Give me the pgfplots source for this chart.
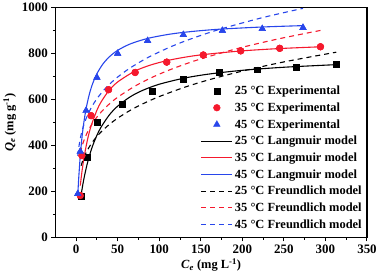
\documentclass[border=0pt]{standalone}
\usepackage{pgfplots}
\pgfplotsset{compat=1.18}
\usepackage{fontspec}
\setmainfont{Liberation Serif}
\definecolor{myred}{RGB}{245,25,45}
\definecolor{myblue}{RGB}{40,70,235}
\pgfplotsset{
 linelegend/.style={legend image code/.code={\draw[##1] (0cm,0cm) -- (1.1cm,0cm);}},
 marklegend/.style={legend image code/.code={\draw[##1] plot coordinates {(0.55cm,0cm)};}},
}
\begin{document}
\begin{tikzpicture}
\begin{axis}[
 scale only axis, width=312bp, height=230bp,
 xmin=-25, xmax=350, ymin=0, ymax=1000,
 xtick={0,50,...,350}, ytick={0,200,...,1000},
 minor x tick num=1, minor y tick num=1,
 tick align=outside, tick pos=left,
 major tick length=4bp, minor tick length=2.5bp,
 axis line style={line width=1.2pt},
 every tick/.style={line width=1pt, black},
 ticklabel style={font=\fontsize{13}{15}\selectfont\bfseries},
 /pgf/number format/assume math mode=true,
 /pgf/number format/1000 sep={},
 xlabel={\textbf{\textit{C}\textsubscript{\textit{e}} (mg L\textsuperscript{-1})}},
 ylabel={\textbf{\textit{Q}\textsubscript{\textit{e}} (mg g\textsuperscript{-1})}},
 label style={font=\fontsize{12.5}{14}\selectfont\bfseries},
 xlabel style={yshift=2bp},
 ylabel style={yshift=-1bp},
 legend style={at={(0.99,0.024)},anchor=south east,draw=none,fill=none,
   font=\fontsize{12.5}{14}\selectfont\bfseries, inner sep=0pt, row sep=2.6bp},
 legend cell align=left,
]
% Experimental (legend)
\addplot[marklegend, only marks, mark=square*, mark size=3bp, black] coordinates {
(6,178)(13,348)(25,500)(55,578)(91,635)(129,687)(172,717)(218,730)(265,743)(313,752)};
\addlegendentry{25 °C Experimental}
\addplot[marklegend, only marks, mark=*, mark size=3.4bp, myred] coordinates {
(5,182)(7,356)(18,530)(39,643)(71,718)(109,763)(153,794)(198,812)(245,823)(294,830)};
\addlegendentry{35 °C Experimental}
\addplot[marklegend, only marks, mark=triangle*, mark size=3.8bp, myblue] coordinates {
(2,190)(5,374)(12,552)(25,696)(50,800)(86,856)(129,882)(176,900)(224,908)(273,913)};
\addlegendentry{45 °C Experimental}
% Langmuir
\addplot[linelegend, smooth, no marks, line width=1.1pt, color=black] coordinates {
(6,184.6)(8,228.6)(10,266.7)(13,315.2)(16,355.6)(20,400)(25,444.4)(30,480)(40,533.3)(50,571.4)(65,611.8)(80,640)(100,666.7)(130,693.3)(160,711.1)(200,727.3)(250,740.7)(313,752.0)};
\addlegendentry{25 °C Langmuir model}
\addplot[linelegend, smooth, no marks, line width=1.1pt, color=myred] coordinates {
(5,225.6)(7,286.1)(10,358.2)(14,430.6)(18,485.0)(25,553.6)(30,589.4)(39,636.8)(50,676.7)(71,724.3)(90,750.8)(109,769.2)(130,783.9)(153,795.7)(198,811.5)(245,822.1)(294,829.7)};
\addlegendentry{35 °C Langmuir model}
\addplot[linelegend, smooth, no marks, line width=1.1pt, color=myblue] coordinates {
(2,183.9)(3,251.5)(5,356.3)(7,433.7)(9,493.3)(12,560.7)(16,624.7)(20,670.6)(25,712.5)(32,753.7)(40,786.2)(50,814.3)(65,842.0)(86,866.1)(110,883.1)(129,892.4)(150,900.0)(176,907.1)(224,915.9)(273,921.9)};
\addlegendentry{45 °C Langmuir model}
% Freundlich
\addplot[linelegend, smooth, no marks, line width=1.1pt, color=black, dash pattern=on 5bp off 4bp] coordinates {
(6,312.1)(8,334.4)(10,352.8)(13,375.7)(16,394.9)(20,416.6)(25,439.5)(30,459.2)(40,492.0)(50,519.1)(65,552.9)(80,581.1)(100,613.0)(130,652.9)(160,686.3)(200,724.0)(250,763.9)(313,806.2)};
\addlegendentry{25 °C Freundlich model}
\addplot[linelegend, smooth, no marks, line width=1.1pt, color=myred, dash pattern=on 5bp off 4bp] coordinates {
(5,367.6)(7,395.9)(10,428.2)(14,461.0)(18,487.3)(25,523.8)(30,545.2)(39,577.7)(50,610.1)(71,659.0)(90,694.3)(109,724.2)(130,752.8)(153,780.3)(198,825.8)(245,865.4)(294,900.9)};
\addlegendentry{35 °C Freundlich model}
\addplot[linelegend, smooth, no marks, line width=1.1pt, color=myblue, dash pattern=on 5bp off 4bp] coordinates {
(2,355.1)(3,386.7)(5,430.4)(7,462.0)(9,487.0)(12,517.3)(16,549.5)(20,575.9)(25,603.6)(32,635.7)(40,666.1)(50,698.1)(65,737.6)(86,782.3)(110,823.8)(129,851.9)(150,879.2)(176,909.3)(224,956.5)(273,997.1)};
\addlegendentry{45 °C Freundlich model}
% Experimental redrawn on top
\addplot[forget plot, only marks, mark=square*, mark size=3bp, black] coordinates {
(6,178)(13,348)(25,500)(55,578)(91,635)(129,687)(172,717)(218,730)(265,743)(313,752)};
\addplot[forget plot, only marks, mark=*, mark size=3.4bp, myred] coordinates {
(5,182)(7,356)(18,530)(39,643)(71,718)(109,763)(153,794)(198,812)(245,823)(294,830)};
\addplot[forget plot, only marks, mark=triangle*, mark size=3.8bp, myblue] coordinates {
(2,190)(5,374)(12,552)(25,696)(50,800)(86,856)(129,882)(176,900)(224,908)(273,913)};
\end{axis}
\end{tikzpicture}
\end{document}
